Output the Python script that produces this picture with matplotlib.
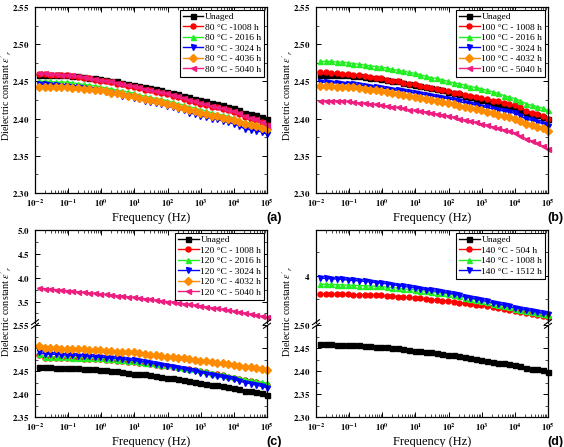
import matplotlib
matplotlib.use('Agg')
import matplotlib.pyplot as plt
import numpy as np
from matplotlib.ticker import MultipleLocator, FixedLocator, LogLocator, FuncFormatter, NullFormatter
from matplotlib.lines import Line2D

plt.rcParams['font.family'] = ['Liberation Serif', 'DejaVu Serif']
plt.rcParams['mathtext.fontset'] = 'stix'

# ---------------- data ----------------
freq = [0.01318, 0.01941, 0.02858, 0.04207, 0.06194, 0.0912, 0.1343, 0.1977, 0.2911, 0.4285,
        0.631, 0.929, 1.368, 2.014, 2.965, 4.365, 6.427, 9.462, 13.93, 20.51,
        30.2, 44.46, 65.46, 96.38, 141.9, 208.9, 307.6, 452.9, 666.8, 981.8,
        1445, 2128, 3133, 4613, 6792, 10000, 14720, 21680, 31920, 46990, 69180, 100000]
xticks = [1e-2, 1e-1, 1e0, 1e1, 1e2, 1e3, 1e4, 1e5]

unaged = [2.459, 2.459, 2.459, 2.458, 2.458, 2.458, 2.457, 2.457, 2.456, 2.455,
          2.454, 2.453, 2.452, 2.451, 2.450, 2.448, 2.447, 2.445, 2.444, 2.443,
          2.441, 2.440, 2.438, 2.436, 2.435, 2.433, 2.431, 2.429, 2.427, 2.425,
          2.423, 2.421, 2.419, 2.418, 2.416, 2.414, 2.411, 2.407, 2.406, 2.405, 2.402, 2.399]

# (a) 80 C
a_1008 = [2.460, 2.460, 2.459, 2.459, 2.458, 2.458, 2.457, 2.456, 2.455, 2.454, 2.452, 2.451,
          2.450, 2.449, 2.447, 2.446, 2.444, 2.443, 2.441, 2.439, 2.438, 2.436, 2.435, 2.433,
          2.431, 2.429, 2.427, 2.424, 2.422, 2.420, 2.418, 2.416, 2.415, 2.413, 2.411, 2.409,
          2.406, 2.402, 2.400, 2.398, 2.395, 2.391]
a_2016 = [2.450, 2.450, 2.450, 2.449, 2.449, 2.449, 2.448, 2.447, 2.446, 2.445, 2.444, 2.443,
          2.441, 2.440, 2.438, 2.437, 2.436, 2.434, 2.432, 2.430, 2.429, 2.427, 2.426, 2.424,
          2.422, 2.420, 2.418, 2.416, 2.414, 2.412, 2.410, 2.408, 2.406, 2.405, 2.403, 2.401,
          2.398, 2.395, 2.394, 2.392, 2.390, 2.388]
a_3024 = [2.446, 2.446, 2.445, 2.445, 2.444, 2.444, 2.443, 2.442, 2.441, 2.440, 2.438, 2.437,
          2.436, 2.434, 2.433, 2.431, 2.430, 2.428, 2.426, 2.424, 2.422, 2.421, 2.419, 2.417,
          2.415, 2.413, 2.411, 2.408, 2.406, 2.404, 2.402, 2.400, 2.399, 2.397, 2.395, 2.393,
          2.390, 2.386, 2.385, 2.384, 2.382, 2.379]
a_4036 = [2.442, 2.442, 2.442, 2.442, 2.442, 2.442, 2.441, 2.441, 2.440, 2.440, 2.439, 2.438,
          2.437, 2.435, 2.434, 2.433, 2.431, 2.430, 2.428, 2.426, 2.425, 2.423, 2.422, 2.420,
          2.418, 2.416, 2.414, 2.412, 2.410, 2.408, 2.406, 2.404, 2.403, 2.401, 2.400, 2.398,
          2.396, 2.393, 2.392, 2.390, 2.388, 2.386]
a_5040 = [2.461, 2.461, 2.460, 2.460, 2.459, 2.459, 2.458, 2.457, 2.456, 2.455, 2.453, 2.452,
          2.451, 2.450, 2.448, 2.447, 2.445, 2.444, 2.442, 2.440, 2.439, 2.437, 2.436, 2.434,
          2.432, 2.430, 2.428, 2.425, 2.423, 2.421, 2.419, 2.417, 2.416, 2.414, 2.412, 2.410,
          2.407, 2.403, 2.401, 2.399, 2.396, 2.392]

# (b) 100 C
b_1008 = [2.462, 2.462, 2.461, 2.461, 2.460, 2.460, 2.459, 2.458, 2.457, 2.456, 2.455, 2.454,
          2.452, 2.451, 2.450, 2.448, 2.447, 2.446, 2.444, 2.443, 2.441, 2.440, 2.438, 2.437,
          2.435, 2.434, 2.432, 2.431, 2.429, 2.428, 2.426, 2.424, 2.423, 2.421, 2.420, 2.418,
          2.415, 2.410, 2.408, 2.406, 2.403, 2.400]
b_2016 = [2.477, 2.477, 2.477, 2.476, 2.476, 2.475, 2.474, 2.473, 2.472, 2.471, 2.470, 2.469,
          2.468, 2.466, 2.465, 2.464, 2.462, 2.461, 2.459, 2.457, 2.455, 2.454, 2.452, 2.450,
          2.448, 2.447, 2.445, 2.443, 2.442, 2.440, 2.438, 2.436, 2.434, 2.431, 2.429, 2.427,
          2.424, 2.420, 2.418, 2.416, 2.414, 2.411]
b_3024 = [2.449, 2.449, 2.448, 2.448, 2.447, 2.447, 2.446, 2.445, 2.444, 2.443, 2.442, 2.441,
          2.440, 2.439, 2.438, 2.437, 2.436, 2.434, 2.433, 2.432, 2.431, 2.429, 2.428, 2.427,
          2.425, 2.423, 2.421, 2.420, 2.418, 2.416, 2.415, 2.413, 2.412, 2.410, 2.409, 2.407,
          2.404, 2.399, 2.398, 2.396, 2.393, 2.390]
b_4032 = [2.444, 2.444, 2.444, 2.443, 2.443, 2.443, 2.442, 2.441, 2.440, 2.439, 2.438, 2.437,
          2.436, 2.434, 2.433, 2.432, 2.430, 2.429, 2.428, 2.426, 2.425, 2.424, 2.422, 2.421,
          2.419, 2.417, 2.416, 2.414, 2.413, 2.411, 2.409, 2.407, 2.405, 2.404, 2.402, 2.400,
          2.397, 2.393, 2.391, 2.389, 2.387, 2.384]
b_5040 = [2.424, 2.424, 2.424, 2.424, 2.424, 2.423, 2.422, 2.421, 2.421, 2.420, 2.419, 2.418,
          2.417, 2.416, 2.415, 2.414, 2.412, 2.411, 2.410, 2.409, 2.408, 2.406, 2.405, 2.404,
          2.402, 2.400, 2.398, 2.397, 2.395, 2.393, 2.391, 2.389, 2.387, 2.385, 2.383, 2.381,
          2.377, 2.373, 2.370, 2.367, 2.363, 2.359]

# (c) 120 C
c_1008 = [2.485, 2.479, 2.479, 2.479, 2.479, 2.479, 2.478, 2.478, 2.477, 2.477, 2.476, 2.476,
          2.475, 2.474, 2.473, 2.472, 2.471, 2.470, 2.468, 2.467, 2.465, 2.464, 2.462, 2.461,
          2.459, 2.457, 2.455, 2.454, 2.452, 2.450, 2.448, 2.445, 2.443, 2.441, 2.438, 2.436,
          2.434, 2.430, 2.428, 2.426, 2.423, 2.421]
c_2016 = [2.487, 2.482, 2.482, 2.481, 2.481, 2.481, 2.480, 2.480, 2.479, 2.479, 2.478, 2.478,
          2.477, 2.476, 2.475, 2.474, 2.473, 2.472, 2.470, 2.469, 2.467, 2.466, 2.464, 2.463,
          2.461, 2.459, 2.457, 2.456, 2.454, 2.452, 2.450, 2.447, 2.445, 2.443, 2.440, 2.438,
          2.436, 2.432, 2.430, 2.428, 2.426, 2.424]
c_3024 = [2.492, 2.488, 2.487, 2.487, 2.486, 2.485, 2.485, 2.484, 2.483, 2.483, 2.482, 2.481,
          2.480, 2.479, 2.478, 2.476, 2.475, 2.474, 2.472, 2.470, 2.468, 2.466, 2.464, 2.462,
          2.460, 2.457, 2.455, 2.452, 2.450, 2.447, 2.445, 2.442, 2.440, 2.437, 2.435, 2.432,
          2.429, 2.425, 2.423, 2.420, 2.417, 2.414]
c_4032 = [2.506, 2.501, 2.500, 2.500, 2.499, 2.499, 2.499, 2.498, 2.498, 2.497, 2.497, 2.496,
          2.495, 2.494, 2.493, 2.493, 2.492, 2.491, 2.489, 2.488, 2.486, 2.485, 2.483, 2.482,
          2.481, 2.479, 2.478, 2.476, 2.475, 2.473, 2.472, 2.470, 2.469, 2.467, 2.466, 2.464,
          2.462, 2.460, 2.459, 2.457, 2.455, 2.453]
c_5040 = [3.780, 3.770, 3.760, 3.750, 3.740, 3.730, 3.718, 3.707, 3.695, 3.683, 3.672, 3.660,
          3.648, 3.637, 3.625, 3.613, 3.602, 3.590, 3.575, 3.560, 3.545, 3.530, 3.515, 3.500,
          3.485, 3.470, 3.455, 3.440, 3.425, 3.410, 3.392, 3.373, 3.355, 3.337, 3.318, 3.300,
          3.278, 3.257, 3.235, 3.213, 3.192, 3.170]

# (d) 140 C
d_504 = [3.615, 3.613, 3.611, 3.609, 3.607, 3.605, 3.602, 3.599, 3.597, 3.594, 3.591, 3.588,
         3.579, 3.570, 3.560, 3.551, 3.542, 3.533, 3.522, 3.510, 3.499, 3.488, 3.476, 3.465,
         3.450, 3.435, 3.421, 3.406, 3.391, 3.376, 3.357, 3.337, 3.318, 3.299, 3.279, 3.260,
         3.239, 3.219, 3.198, 3.177, 3.157, 3.136]
d_1008 = [3.821, 3.818, 3.814, 3.810, 3.806, 3.800, 3.796, 3.792, 3.787, 3.783, 3.778, 3.773,
          3.761, 3.749, 3.737, 3.724, 3.712, 3.700, 3.686, 3.672, 3.658, 3.643, 3.629, 3.615,
          3.590, 3.565, 3.540, 3.515, 3.490, 3.465, 3.439, 3.412, 3.386, 3.360, 3.333, 3.307,
          3.284, 3.261, 3.238, 3.216, 3.193, 3.170]
d_1512 = [3.944, 3.940, 3.933, 3.926, 3.918, 3.905, 3.897, 3.889, 3.878, 3.866, 3.853, 3.841,
          3.826, 3.810, 3.792, 3.775, 3.757, 3.739, 3.722, 3.705, 3.688, 3.670, 3.653, 3.636,
          3.612, 3.587, 3.561, 3.536, 3.510, 3.485, 3.459, 3.433, 3.407, 3.381, 3.355, 3.328,
          3.305, 3.282, 3.260, 3.237, 3.214, 3.191]

labels_a = ['Unaged', '80 °C -1008 h', '80 °C - 2016 h', '80 °C - 3024 h', '80 °C - 4036 h', '80 °C - 5040 h']
labels_b = ['Unaged', '100 °C - 1008 h', '100 °C - 2016 h', '100 °C - 3024 h', '100 °C - 4032 h', '100 °C - 5040 h']
labels_c = ['Unaged', '120 °C - 1008 h', '120 °C - 2016 h', '120 °C - 3024 h', '120 °C - 4032 h', '120 °C - 5040 h']
labels_d = ['Unaged', '140 °C - 504 h', '140 °C - 1008 h', '140 °C - 1512 h']

colors = ['#000000', '#FF0000', '#22EE22', '#0000FF', '#FF8C00', '#EE1E80']
markers = ['s', 'o', '^', 'v', 'D', '<']

# ---------------- figure ----------------
W, H = 564, 447
fig = plt.figure(figsize=(W / 100, H / 100), dpi=100)


def box(l, t, r, b):
    return [l / W, 1 - b / H, (r - l) / W, (b - t) / H]


def xfmt(v, p):
    return r'$\mathbf{10^{%d}}$' % int(round(np.log10(v)))


def yfmt(dec):
    return FuncFormatter(lambda v, p: (r'$\mathbf{%.' + str(dec) + r'f}$') % v)


def style(ax, top=True, bottom=True, xlabels=True):
    ax.set_xscale('log')
    ax.set_xlim(1e-2, 1e5)
    ax.xaxis.set_major_locator(FixedLocator(xticks))
    ax.xaxis.set_minor_locator(LogLocator(base=10, subs=range(2, 10), numticks=20))
    ax.xaxis.set_minor_formatter(NullFormatter())
    if xlabels:
        ax.xaxis.set_major_formatter(FuncFormatter(xfmt))
    else:
        ax.xaxis.set_major_formatter(NullFormatter())
    ax.tick_params(which='both', direction='in', top=top, bottom=bottom, left=True, right=True)
    ax.tick_params(axis='x', labelsize=6.3, pad=3)
    ax.tick_params(axis='y', labelsize=6.4, pad=4)
    ax.tick_params(which='major', length=3.5, width=0.7)
    ax.tick_params(which='minor', length=2, width=0.5)
    for s in ax.spines.values():
        s.set_linewidth(0.9)


def plot_series(ax, series, idx):
    return ax.plot(freq, series, color=colors[idx], marker=markers[idx], ms=3.6, lw=1.0,
                   mec=colors[idx], mfc=colors[idx], clip_on=False)[0]


def legend(ax, handles, labels):
    lg = ax.legend(handles, labels, loc='upper right', fontsize=6.8, frameon=True, fancybox=False,
                   edgecolor='black', borderaxespad=0.3, borderpad=0.3, labelspacing=0.2,
                   handlelength=2.2, handletextpad=0.2, framealpha=1)
    lg.get_frame().set_linewidth(0.8)


ylab = r"Dielectric constant $\varepsilon'_{r}$"
YL_OFF = 28.5  # y-label centre, pixels left of the axes

# ---- (a) and (b)
for (l, r), data, labs, tag in [((35, 267), [unaged, a_1008, a_2016, a_3024, a_4036, a_5040], labels_a, '(a)'),
                                ((316, 548), [unaged, b_1008, b_2016, b_3024, b_4032, b_5040], labels_b, '(b)')]:
    ax = fig.add_axes(box(l, 7, r, 193))
    style(ax)
    hs = [plot_series(ax, s, i) for i, s in enumerate(data)]
    ax.set_ylim(2.30, 2.55)
    ax.yaxis.set_major_locator(MultipleLocator(0.05))
    ax.yaxis.set_minor_locator(MultipleLocator(0.025))
    ax.yaxis.set_major_formatter(yfmt(2))
    legend(ax, hs, labs)
    fig.text((l + r) / 2 / W, 1 - 218 / H, 'Frequency (Hz)', ha='center', va='center', fontsize=9)
    fig.text((l - YL_OFF) / W, 1 - 95 / H, ylab, rotation=90, ha='center', va='center', fontsize=7.3)
    fig.text((r + 7) / W, 1 - 218 / H, tag, ha='center', va='center', fontsize=9,
             fontweight='bold', family='Liberation Sans')


def add_break(l, r, yb):
    for x in (l, r):
        for dy in (-1.8, 1.8):
            y = yb + dy
            fig.add_artist(Line2D([(x - 3.5) / W, (x + 3.5) / W], [1 - (y + 2.5) / H, 1 - (y - 2.5) / H],
                                  transform=fig.transFigure, color='black', lw=0.8))


def broken_panel(l, r, tag):
    axu = fig.add_axes(box(l, 230, r, 322.5))
    axl = fig.add_axes(box(l, 325.5, r, 417))
    style(axu, top=True, bottom=False, xlabels=False)
    style(axl, top=False, bottom=True)
    axu.spines['bottom'].set_visible(False)
    axl.spines['top'].set_visible(False)
    add_break(l, r, 324)
    fig.text((l + r) / 2 / W, 1 - 442 / H, 'Frequency (Hz)', ha='center', va='center', fontsize=9)
    fig.text((l - YL_OFF) / W, 1 - 311 / H, ylab, rotation=90, ha='center', va='center', fontsize=7.3)
    fig.text((r + 7) / W, 1 - 442 / H, tag, ha='center', va='center', fontsize=9,
             fontweight='bold', family='Liberation Sans')
    return axu, axl


# ---- (c)
axu, axl = broken_panel(35, 267, '(c)')
hc = [plot_series(axl, s, i) for i, s in enumerate([unaged, c_1008, c_2016, c_3024, c_4032])]
hc.append(plot_series(axu, c_5040, 5))
axu.set_ylim(3.06, 5.0)
axu.yaxis.set_major_locator(MultipleLocator(0.5))
axu.yaxis.set_minor_locator(MultipleLocator(0.25))
axu.yaxis.set_major_formatter(yfmt(1))
axl.set_ylim(2.35, 2.55)
axl.yaxis.set_major_locator(MultipleLocator(0.05))
axl.yaxis.set_minor_locator(MultipleLocator(0.025))
axl.yaxis.set_major_formatter(yfmt(2))
legend(axu, hc, labels_c)

# ---- (d)
axu, axl = broken_panel(316, 548, '(d)')
hd = [plot_series(axl, unaged, 0)]
hd += [plot_series(axu, s, i + 1) for i, s in enumerate([d_504, d_1008, d_1512])]
axu.set_ylim(3.02, 4.95)
axu.yaxis.set_major_locator(MultipleLocator(1))
axu.yaxis.set_minor_locator(MultipleLocator(0.5))
axu.yaxis.set_major_formatter(FuncFormatter(lambda v, p: r'$\mathbf{%d}$' % v))
axl.set_ylim(2.30, 2.50)
axl.yaxis.set_major_locator(MultipleLocator(0.05))
axl.yaxis.set_minor_locator(MultipleLocator(0.025))
axl.yaxis.set_major_formatter(yfmt(2))
legend(axu, hd, labels_d)

fig.savefig('out.png', dpi=100)
